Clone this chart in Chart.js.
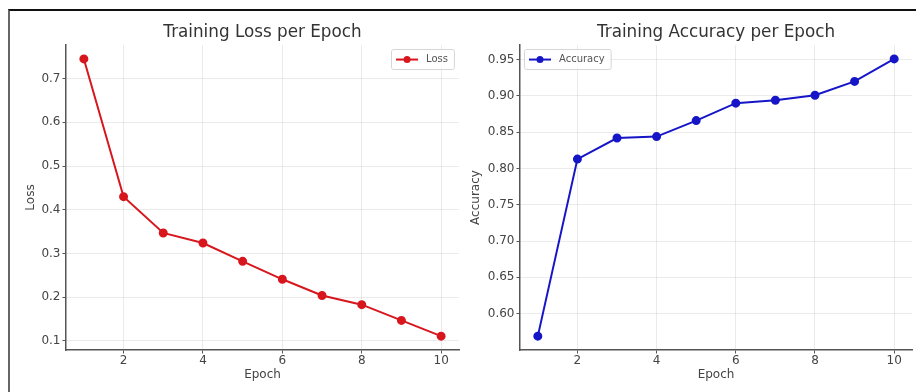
<!DOCTYPE html>
<html>
<head>
<meta charset="utf-8">
<title>Training Loss and Accuracy per Epoch</title>
<script src="https://cdn.jsdelivr.net/npm/chart.js@4.4.0/dist/chart.umd.min.js"></script>
<style>
  body { margin: 0; background: #fff; }
  #page { position: relative; width: 916px; height: 392px; overflow: hidden; }
  .frame { position: absolute; left: 8px; top: 9px; right: 0; bottom: 0; border-top: 2px solid #111; border-left: 2px solid #666; }
  #lossChart { position: absolute; left: 0; top: 0; }
  #accChart { position: absolute; left: 460px; top: 0; }
</style>
</head>
<body>
<div id="page">
  <div class="frame"></div>
  <canvas id="lossChart" width="460" height="392"></canvas>
  <canvas id="accChart" width="456" height="392"></canvas>
</div>
<script>
const epochs = [1, 2, 3, 4, 5, 6, 7, 8, 9, 10];
const lossValues = [0.745, 0.430, 0.347, 0.324, 0.282, 0.241, 0.204, 0.183, 0.147, 0.111];
const accuracyValues = [0.569, 0.813, 0.842, 0.844, 0.866, 0.890, 0.894, 0.901, 0.920, 0.951];

const epochTicks = [2, 4, 6, 8, 10];
const lossTicks = [0.1, 0.2, 0.3, 0.4, 0.5, 0.6, 0.7];
const accuracyTicks = [0.60, 0.65, 0.70, 0.75, 0.80, 0.85, 0.90, 0.95];

Chart.defaults.font.family = '"DejaVu Sans", sans-serif';
Chart.defaults.color = '#444';

// matplotlib style 5% margins around the data
function padded(values) {
  const lo = Math.min(...values), hi = Math.max(...values);
  const m = (hi - lo) * 0.05;
  return { min: lo - m, max: hi + m };
}

// legend drawn inside the plot, with a light box round it
const boxLegend = {
  id: 'boxLegend',
  afterDatasetsDraw(chart, args, opts) {
    const ctx = chart.ctx;
    const area = chart.chartArea;
    const ds = chart.data.datasets[0];
    ctx.save();
    ctx.font = '10px "DejaVu Sans", sans-serif';
    const w = ctx.measureText(ds.label).width + 41;
    const h = 20;
    const x = opts.side === 'right' ? area.right - 5 - w : area.left + 4;
    const y = area.top + 4;
    ctx.fillStyle = 'rgba(255,255,255,0.85)';
    ctx.strokeStyle = '#d6d6d6';
    ctx.lineWidth = 1;
    ctx.beginPath();
    ctx.roundRect(Math.round(x) + 0.5, Math.round(y) + 0.5, w, h, 2);
    ctx.fill();
    ctx.stroke();

    const cy = y + h / 2 + 0.5;
    ctx.strokeStyle = ds.borderColor;
    ctx.lineWidth = 2;
    ctx.beginPath();
    ctx.moveTo(x + 5, cy);
    ctx.lineTo(x + 27, cy);
    ctx.stroke();
    ctx.fillStyle = ds.borderColor;
    ctx.beginPath();
    ctx.arc(x + 16, cy, 3.5, 0, Math.PI * 2);
    ctx.fill();

    ctx.fillStyle = '#555';
    ctx.textBaseline = 'middle';
    ctx.fillText(ds.label, x + 35, cy);
    ctx.restore();
  }
};

function makeChart(id, opts) {
  const yRange = padded(opts.values);
  return new Chart(document.getElementById(id), {
    type: 'line',
    data: {
      datasets: [{
        label: opts.label,
        data: epochs.map((e, i) => ({ x: e, y: opts.values[i] })),
        borderColor: opts.color,
        backgroundColor: opts.color,
        borderWidth: 2,
        pointRadius: 3.5,
        pointHoverRadius: 3.5,
        tension: 0
      }]
    },
    options: {
      responsive: false,
      animation: false,
      layout: {
        autoPadding: false,
        padding: { top: 0, left: 0, right: opts.padRight, bottom: 0 }
      },
      plugins: {
        legend: { display: false },
        tooltip: { enabled: false },
        title: {
          display: true,
          fullSize: false,
          text: opts.title,
          color: '#333',
          font: { size: 16.8, weight: 'normal' },
          padding: { top: 22.9, bottom: 2 }
        },
        boxLegend: { side: opts.legendSide }
      },
      scales: {
        x: {
          type: 'linear',
          min: 0.55,
          max: 10.45,
          afterFit: (scale) => {
            scale.height = 42;
            scale.paddingLeft = 0;
            scale.paddingRight = 0;
          },
          afterBuildTicks: (scale) => { scale.ticks = epochTicks.map(v => ({ value: v })); },
          ticks: { font: { size: 12 }, color: '#444', padding: 0, maxRotation: 0 },
          grid: { color: 'rgba(0,0,0,0.08)', tickColor: '#555', tickLength: 3.5 },
          border: { color: '#555', width: 1.5 },
          title: { display: true, text: 'Epoch', color: '#444', font: { size: 12 }, padding: { top: 0, bottom: 10 } }
        },
        y: {
          min: yRange.min,
          max: yRange.max,
          afterFit: (scale) => {
            scale.width = opts.axisWidth;
            scale.paddingTop = 0;
            scale.paddingBottom = 0;
          },
          afterBuildTicks: (scale) => { scale.ticks = opts.ticks.map(v => ({ value: v })); },
          ticks: {
            font: { size: 12 },
            color: '#444',
            padding: 2,
            callback: (v) => Number(v).toFixed(opts.decimals)
          },
          grid: { color: 'rgba(0,0,0,0.08)', tickColor: '#555', tickLength: 3.5 },
          border: { color: '#555', width: 1.5 },
          title: { display: true, text: opts.yTitle, color: '#444', font: { size: 12 }, padding: { top: opts.yTitlePad, bottom: 0 } }
        }
      }
    },
    plugins: [boxLegend]
  });
}

makeChart('lossChart', {
  label: 'Loss',
  title: 'Training Loss per Epoch',
  yTitle: 'Loss',
  values: lossValues,
  ticks: lossTicks,
  decimals: 1,
  color: '#d8161e',
  legendSide: 'right',
  axisWidth: 66,
  padRight: 1,
  yTitlePad: 24
});

makeChart('accChart', {
  label: 'Accuracy',
  title: 'Training Accuracy per Epoch',
  yTitle: 'Accuracy',
  values: accuracyValues,
  ticks: accuracyTicks,
  decimals: 2,
  color: '#1616c8',
  legendSide: 'left',
  axisWidth: 60,
  padRight: 4,
  yTitlePad: 9
});
</script>
</body>
</html>
